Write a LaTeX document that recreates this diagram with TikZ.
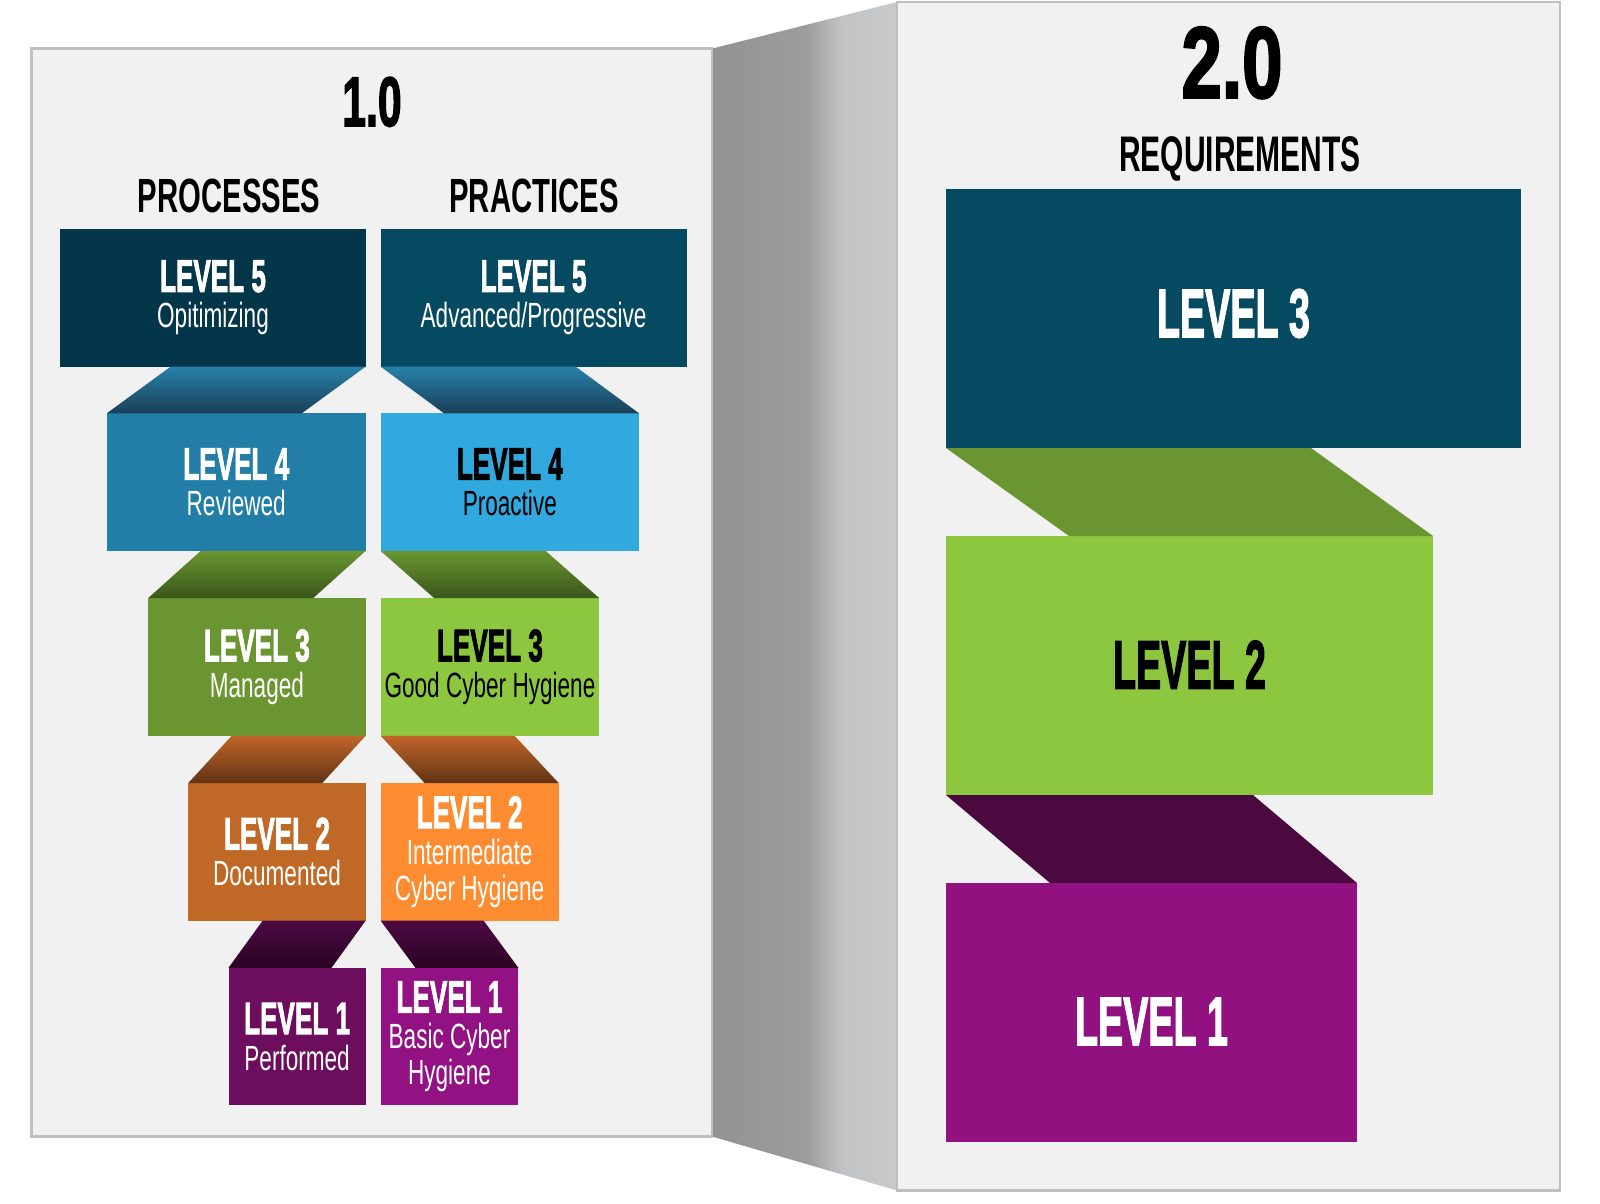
\documentclass[tikz,border=0pt]{standalone}
\usepackage{fontspec}
\setmainfont{Liberation Sans}
\newfontfamily\heavyfont[BoldFeatures={FakeBold=2.5}]{Liberation Sans}
\usepackage{graphicx}
\pgfdeclarelayer{bg}
\pgfsetlayers{bg,main}
\definecolor{panelfill}{HTML}{F0F1F0}
\definecolor{panelline}{HTML}{BEC0C0}
\definecolor{spA}{HTML}{929292}
\definecolor{spB}{HTML}{9D9D9D}
\definecolor{spC}{HTML}{C2C3C5}
\definecolor{spD}{HTML}{C9CACC}
\definecolor{pFive}{HTML}{04364A}
\definecolor{qFive}{HTML}{054A61}
\definecolor{pFour}{HTML}{237EA7}
\definecolor{qFour}{HTML}{31A9DE}
\definecolor{pThree}{HTML}{6A9530}
\definecolor{qThree}{HTML}{8DC63F}
\definecolor{pTwo}{HTML}{C06926}
\definecolor{qTwo}{HTML}{FE8C31}
\definecolor{pOne}{HTML}{6C0D5E}
\definecolor{qOne}{HTML}{921283}
\definecolor{rOne}{HTML}{911180}
\definecolor{ribBlueT}{HTML}{2781AA}
\definecolor{ribBlueB}{HTML}{1A3F56}
\definecolor{ribGreenT}{HTML}{6A9631}
\definecolor{ribGreenB}{HTML}{3A551A}
\definecolor{ribOrangeT}{HTML}{C1652A}
\definecolor{ribOrangeB}{HTML}{613414}
\definecolor{ribPurpleT}{HTML}{4C0A43}
\definecolor{ribPurpleB}{HTML}{2A0222}
\definecolor{flatGreen}{HTML}{6A9530}
\definecolor{flatPurple}{HTML}{4A0A40}
\pgfdeclarehorizontalshading{spineshade}{100bp}{color(0bp)=(spA); color(25bp)=(spA); color(51bp)=(spB); color(60bp)=(spC); color(75bp)=(spD); color(100bp)=(spD)}
\newcommand\lv[1]{\scalebox{0.575}[1]{\fontsize{45.4}{45.4}\heavyfont\bfseries #1}}
\newcommand\subl[1]{\scalebox{0.645}[1]{\fontsize{35}{36}\selectfont #1}}
\newcommand\hdr[3]{\scalebox{#1}[1]{\fontsize{#2}{#2}\heavyfont\bfseries #3}}
\newcommand\sect[3]{\scalebox{#1}[1]{\fontsize{#2}{#2}\selectfont\bfseries #3}}
\tikzset{
  panel/.style={draw=panelline, line width=2.5pt, fill=panelfill, inner sep=0pt, outer sep=0pt, anchor=north west},
  lvbox/.style={inner sep=0pt, outer sep=0pt, anchor=north west, align=center, text=white, minimum height=137.6pt, font=\fontsize{35}{36}\selectfont},
  bigbox/.style={inner sep=0pt, outer sep=0pt, anchor=north west, minimum height=259pt},
  head/.style={anchor=base, inner sep=0pt, outer sep=0pt, text=black}
}
\begin{document}
\begin{tikzpicture}[x=1pt,y=-1pt]
\useasboundingbox (0,0) rectangle (1600,1204);
% panels
\node[panel, minimum width=680.4pt, minimum height=1087.9pt] (pan1) at (31.6,48.6) {};
\node[panel, minimum width=663pt, minimum height=1188.5pt] (pan2) at (897,2) {};
\begin{pgfonlayer}{bg}
\fill[white] (0,0) rectangle (1600,1204);
\shade[shading=spineshade] (pan1.north east) -- (pan2.north west) -- (pan2.south west) -- (pan1.south east) -- cycle;
\end{pgfonlayer}
% titles
\node[head] (t1) at (372,126) {\hdr{0.61}{70}{1.0}};
\node[head] (t2) at (1232,97.6) {\hdr{0.72}{101}{2.0}};
\node[head] (hproc) at (229,212) {\sect{0.61}{48}{PROCESSES}};
\node[head] (hprac) at (534,212) {\sect{0.61}{48}{PRACTICES}};
\node[head] (hreq) at (1240,171.5) {\sect{0.60}{50}{REQUIREMENTS}};
% processes column
\node[lvbox, fill=pFive, minimum width=305.4pt] (p5) at (60.3,229) {\lv{LEVEL 5}\\\subl{Opitimizing}};
\node[lvbox, fill=pFour, minimum width=258.9pt] (p4) at (106.8,413.3) {\lv{LEVEL 4}\\\subl{Reviewed}};
\node[lvbox, fill=pThree, minimum width=217.6pt] (p3) at (148.1,598.2) {\lv{LEVEL 3}\\\subl{Managed}};
\node[lvbox, fill=pTwo, minimum width=177.4pt] (p2) at (188.3,783) {\lv{LEVEL 2}\\\subl{Documented}};
\node[lvbox, fill=pOne, minimum width=137.2pt] (p1) at (228.5,967.8) {\lv{LEVEL 1}\\\subl{Performed}};
% practices column
\node[lvbox, fill=qFive, minimum width=306pt] (q5) at (380.6,229) {\lv{LEVEL 5}\\\subl{Advanced/Progressive}};
\node[lvbox, fill=qFour, minimum width=258.4pt, text=black] (q4) at (380.6,413.3) {\lv{LEVEL 4}\\\subl{Proactive}};
\node[lvbox, fill=qThree, minimum width=218.7pt, text=black] (q3) at (380.6,598.2) {\lv{LEVEL 3}\\\subl{Good Cyber Hygiene}};
\node[lvbox, fill=qTwo, minimum width=178pt] (q2) at (380.6,783) {\lv{LEVEL 2}\\\subl{Intermediate}\\\subl{Cyber Hygiene}};
\node[lvbox, fill=qOne, minimum width=137.8pt] (q1) at (380.6,967.8) {\lv{LEVEL 1}\\\subl{Basic Cyber}\\\subl{Hygiene}};
% ribbons processes
\shade[top color=ribBlueT, bottom color=ribBlueB] (p5.south east) -- ++(-195,0) -- (p4.north west) -- ++(195,0) -- cycle;
\shade[top color=ribGreenT, bottom color=ribGreenB] (p4.south east) -- ++(-165,0) -- (p3.north west) -- ++(165,0) -- cycle;
\shade[top color=ribOrangeT, bottom color=ribOrangeB] (p3.south east) -- ++(-134,0) -- (p2.north west) -- ++(134,0) -- cycle;
\shade[top color=ribPurpleT, bottom color=ribPurpleB] (p2.south east) -- ++(-103,0) -- (p1.north west) -- ++(103,0) -- cycle;
% ribbons practices
\shade[top color=ribBlueT, bottom color=ribBlueB] (q5.south west) -- ++(195,0) -- (q4.north east) -- ++(-195,0) -- cycle;
\shade[top color=ribGreenT, bottom color=ribGreenB] (q4.south west) -- ++(165,0) -- (q3.north east) -- ++(-165,0) -- cycle;
\shade[top color=ribOrangeT, bottom color=ribOrangeB] (q3.south west) -- ++(134,0) -- (q2.north east) -- ++(-134,0) -- cycle;
\shade[top color=ribPurpleT, bottom color=ribPurpleB] (q2.south west) -- ++(103,0) -- (q1.north east) -- ++(-103,0) -- cycle;
% requirements column
\node[bigbox, fill=qFive, minimum width=575pt] (r3) at (946,189) {};
\node[bigbox, fill=qThree, minimum width=487pt] (r2) at (946,536) {};
\node[bigbox, fill=rOne, minimum width=411pt] (r1) at (946,883) {};
\fill[flatGreen] (r3.south west) -- ++(365,0) -- (r2.north east) -- ++(-364,0) -- cycle;
\fill[flatPurple] (r2.south west) -- ++(307,0) -- (r1.north east) -- ++(-307,0) -- cycle;
\node[head, text=white] (r3t) at ([yshift=-18.5pt]r3.center) {\hdr{0.55}{68.5}{LEVEL 3}};
\node[head, text=black] (r2t) at ([yshift=-23pt]r2.center) {\hdr{0.55}{68.5}{LEVEL 2}};
\node[head, text=white] (r1t) at ([yshift=-32.5pt]r1.center) {\hdr{0.55}{68.5}{LEVEL 1}};
\end{tikzpicture}
\end{document}
